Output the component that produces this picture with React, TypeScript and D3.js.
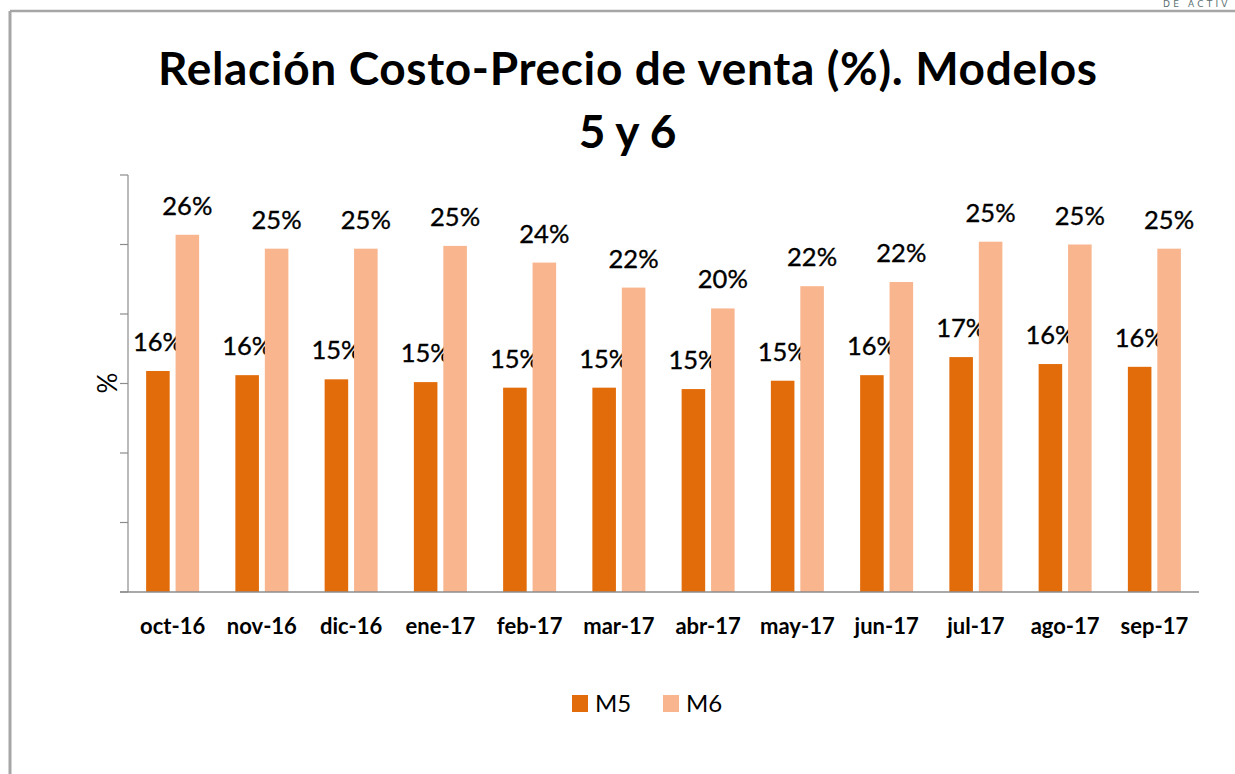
import React from "react";
import * as d3 from "d3";

const categories = ["oct-16", "nov-16", "dic-16", "ene-17", "feb-17", "mar-17", "abr-17", "may-17", "jun-17", "jul-17", "ago-17", "sep-17"];
const seriesNames = ["M5", "M6"];
const m5Values = [0.159, 0.156, 0.153, 0.151, 0.147, 0.147, 0.146, 0.152, 0.156, 0.169, 0.164, 0.162];
const m6Values = [0.257, 0.247, 0.247, 0.249, 0.237, 0.219, 0.204, 0.220, 0.223, 0.252, 0.250, 0.247];
const yTicks = [0, 0.05, 0.1, 0.15, 0.2, 0.25, 0.3];
const titleLines = ["Relación Costo-Precio de venta (%). Modelos", "5 y 6"];

const colors: Record<string, string> = { M5: "#E36C0A", M6: "#F8B58E" };
const FONT = "Lato, 'Open Sans', sans-serif";

export default function App() {
  const W = 1235, H = 774;
  const left = 128, right = 1199, top = 175, bottom = 592;
  const x0 = d3.scaleBand<string>().domain(categories).range([left, right]).padding(0);
  const bw = x0.bandwidth();
  const x1 = d3.scaleBand<string>().domain(seriesNames).range([bw / 2 - 26.5, bw / 2 + 26.5]).paddingInner(0.2).paddingOuter(0);
  const y = d3.scaleLinear().domain([0, 0.3]).range([bottom, top]);
  const fmt = d3.format(".0%");
  const seriesValues: Record<string, number[]> = { M5: m5Values, M6: m6Values };
  const axisColor = "#8c8c8c";

  return (
    <svg width={W} height={H} style={{ position: "absolute", left: 0, top: 0, background: "#fff" }} fontFamily={FONT}>
      <rect x={0} y={0} width={W} height={H} fill="#fff" />
      {/* frame */}
      <line x1={10} y1={11} x2={W} y2={11} stroke="#a6a6a6" strokeWidth={2.5} />
      <line x1={10} y1={11} x2={10} y2={H} stroke="#a6a6a6" strokeWidth={3} />
      <text x={1163} y={7} fontSize={9} fill="#5b6f70" letterSpacing={3.2} fontFamily="'DejaVu Sans', sans-serif">DE ACTIV</text>

      {/* title */}
      <text x={627.5} y={85} textAnchor="middle" fontSize={46} fontWeight="bold" fill="#000" textLength={939} lengthAdjust="spacing">{titleLines[0]}</text>
      <text x={627.5} y={148} textAnchor="middle" fontSize={46} fontWeight="bold" fill="#000">{titleLines[1]}</text>

      {/* y axis */}
      <line x1={left} y1={top} x2={left} y2={bottom} stroke={axisColor} strokeWidth={1.2} />
      {yTicks.map((t) => (
        <line key={t} x1={left - 8} x2={left} y1={y(t)} y2={y(t)} stroke={axisColor} strokeWidth={1.2} />
      ))}
      <text transform={`translate(117,383) rotate(-90)`} textAnchor="middle" fontSize={26} fill="#000">%</text>

      {/* bars */}
      {categories.map((c, i) => (
        <g key={c} transform={`translate(${x0(c)},0)`}>
          {seriesNames.map((s) => {
            const v = seriesValues[s][i];
            const bx = x1(s)!;
            return (
              <g key={s}>
                <rect x={bx} y={y(v)} width={x1.bandwidth()} height={bottom - y(v)} fill={colors[s]} />
                <text x={bx + x1.bandwidth() / 2} y={y(v) - 20} textAnchor="middle" fontSize={25.5} fill="#000" stroke="#000" strokeWidth={0.35}>{fmt(v)}</text>
              </g>
            );
          })}
        </g>
      ))}

      {/* x axis */}
      <line x1={left - 8} x2={right} y1={bottom} y2={bottom} stroke={axisColor} strokeWidth={1.5} />
      {categories.map((c) => (
        <text key={c} x={x0(c)! + bw / 2} y={634} textAnchor="middle" fontSize={22} fontWeight="bold" fill="#000">{c}</text>
      ))}

      {/* legend */}
      {seriesNames.map((s, i) => (
        <g key={s} transform={`translate(${572 + i * 91},695)`}>
          <rect x={0} y={0} width={16} height={17} fill={colors[s]} />
          <text x={23} y={17} fontSize={24} fill="#000">{s}</text>
        </g>
      ))}
    </svg>
  );
}
